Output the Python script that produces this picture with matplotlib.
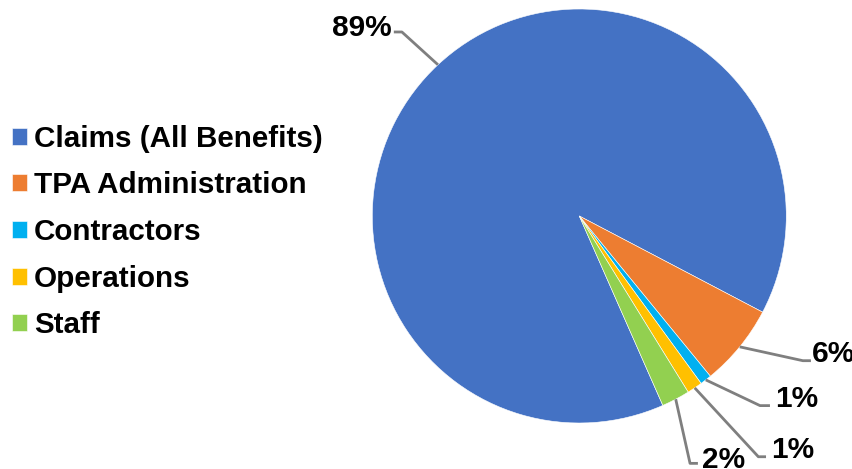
import matplotlib
matplotlib.use('Agg')
import matplotlib.pyplot as plt
import numpy as np

matplotlib.rcParams['font.family'] = ['Liberation Sans', 'DejaVu Sans']

categories = ['Claims (All Benefits)', 'TPA Administration', 'Contractors', 'Operations', 'Staff']
shares = [89.3, 6.4, 0.9, 1.2, 2.2]
colors = ['#4472C4', '#ED7D31', '#00B0F0', '#FFC000', '#92D050']

# label layout (data units, pie radius = 1): text anchor, elbow point, line end
label_pos = [(-0.905, 0.870, 'right'), (1.123, -0.705, 'left'), (0.945, -0.921, 'left'),
             (0.929, -1.169, 'left'), (0.591, -1.217, 'left')]
elbows = [(-0.857, 0.889), (1.080, -0.699), (0.873, -0.916), (0.865, -1.163), (0.535, -1.195)]
line_ends = [(-0.896, 0.889), (1.119, -0.699), (0.921, -0.916), (0.902, -1.163), (0.573, -1.195)]

W, H = 852, 469
cx, cy, R = 579.3, 216.0, 207.0

fig = plt.figure(figsize=(W / 100, H / 100), dpi=100)
ax = fig.add_axes([0, 0, 1, 1])

wedges, _ = ax.pie(shares, colors=colors, startangle=-66.2, counterclock=False,
                   radius=1, wedgeprops=dict(linewidth=0.4, edgecolor='white'))

ax.set_xlim(-cx / R, (W - cx) / R)
ax.set_ylim(-(H - cy) / R, cy / R)
ax.set_aspect('equal')
ax.axis('off')

for w, val, (tx, ty, ha), el, le in zip(wedges, shares, label_pos, elbows, line_ends):
    mid = np.deg2rad((w.theta1 + w.theta2) / 2)
    px, py = np.cos(mid), np.sin(mid)
    ax.plot([px, el[0], le[0]], [py, el[1], le[1]], color='#7F7F7F', lw=2.0,
            solid_capstyle='butt', clip_on=False)
    ax.text(tx, ty, '%d%%' % round(val), ha=ha, va='baseline', fontsize=21.5,
            fontweight='bold', color='black')

leg = fig.legend(wedges, categories, loc='center left', bbox_to_anchor=(12 / W, 1 - 232 / H),
                 frameon=False, prop={'weight': 'bold', 'size': 21.3},
                 handlelength=0.52, handleheight=0.52, handletextpad=0.22,
                 labelspacing=0.63, borderpad=0, borderaxespad=0)

fig.savefig('out.png', dpi=100)
